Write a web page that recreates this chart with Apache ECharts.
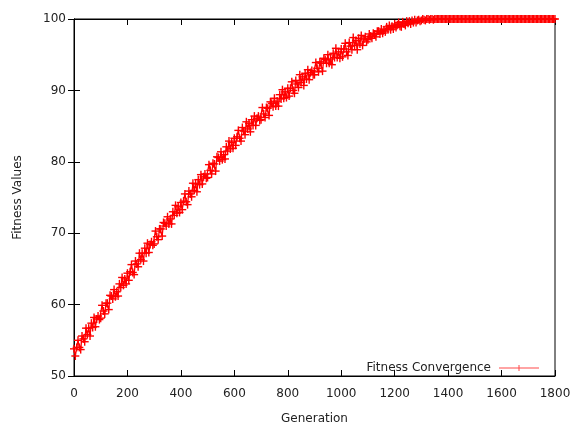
<!DOCTYPE html>
<html>
<head>
<meta charset="utf-8">
<script src="https://cdn.jsdelivr.net/npm/echarts@6/dist/echarts.min.js"></script>
<style>html,body{margin:0;padding:0;background:#fff}#c{width:576px;height:428px}</style>
</head>
<body>
<div id="c"></div>
<script>
const generations = [
0,5,10,15,20,25,30,35,40,45,50,55,60,65,70,75,80,85,90,95,
100,105,110,115,120,125,130,135,140,145,150,155,160,165,170,175,180,185,190,195,
200,205,210,215,220,225,230,235,240,245,250,255,260,265,270,275,280,285,290,295,
300,305,310,315,320,325,330,335,340,345,350,355,360,365,370,375,380,385,390,395,
400,405,410,415,420,425,430,435,440,445,450,455,460,465,470,475,480,485,490,495,
500,505,510,515,520,525,530,535,540,545,550,555,560,565,570,575,580,585,590,595,
600,605,610,615,620,625,630,635,640,645,650,655,660,665,670,675,680,685,690,695,
700,705,710,715,720,725,730,735,740,745,750,755,760,765,770,775,780,785,790,795,
800,805,810,815,820,825,830,835,840,845,850,855,860,865,870,875,880,885,890,895,
900,905,910,915,920,925,930,935,940,945,950,955,960,965,970,975,980,985,990,995,
1000,1005,1010,1015,1020,1025,1030,1035,1040,1045,1050,1055,1060,1065,1070,1075,1080,1085,1090,1095,
1100,1105,1110,1115,1120,1125,1130,1135,1140,1145,1150,1155,1160,1165,1170,1175,1180,1185,1190,1195,
1200,1205,1210,1215,1220,1225,1230,1235,1240,1245,1250,1255,1260,1265,1270,1275,1280,1285,1290,1295,
1300,1305,1310,1315,1320,1325,1330,1335,1340,1345,1350,1355,1360,1365,1370,1375,1380,1385,1390,1395,
1400,1405,1410,1415,1420,1425,1430,1435,1440,1445,1450,1455,1460,1465,1470,1475,1480,1485,1490,1495,
1500,1505,1510,1515,1520,1525,1530,1535,1540,1545,1550,1555,1560,1565,1570,1575,1580,1585,1590,1595,
1600,1605,1610,1615,1620,1625,1630,1635,1640,1645,1650,1655,1660,1665,1670,1675,1680,1685,1690,1695,
1700,1705,1710,1715,1720,1725,1730,1735,1740,1745,1750,1755,1760,1765,1770,1775,1780,1785,1790,1795,
1800];
const fitness = [
53.8,52.8,54.0,55.0,54.0,53.7,55.6,55.2,54.8,56.7,
55.8,56.7,55.6,57.4,56.8,58.2,56.9,58.0,58.4,57.9,
58.1,59.9,59.1,58.7,60.2,60.2,59.3,61.3,61.2,60.8,
62.1,61.1,61.8,61.2,62.9,62.4,63.8,62.7,63.6,62.9,
64.4,63.4,64.6,65.6,64.5,64.2,66.1,65.7,65.3,67.2,
66.3,67.2,66.1,67.9,67.2,68.6,67.3,68.4,68.8,68.3,
68.5,70.3,69.5,69.1,70.6,70.6,69.6,71.5,71.4,71.0,
72.3,71.3,72.0,71.3,73.0,72.5,73.9,72.8,73.7,72.9,
74.3,73.3,74.5,75.5,74.4,74.0,75.9,75.5,75.1,77.0,
76.0,76.9,75.8,77.5,76.8,78.2,76.9,77.9,78.3,77.7,
77.8,79.6,78.8,78.3,79.8,79.7,78.7,80.7,80.6,80.1,
81.4,80.3,81.0,80.4,82.1,81.5,82.9,81.8,82.7,81.9,
83.3,82.3,83.5,84.4,83.3,82.9,84.8,84.3,83.8,85.6,
84.6,85.4,84.2,85.9,85.1,86.4,85.1,86.1,86.4,85.8,
85.9,87.6,86.7,86.2,87.6,87.5,86.5,88.4,88.2,87.7,
88.9,87.8,88.5,87.8,89.4,88.8,90.1,88.9,89.8,89.0,
90.3,89.2,90.3,91.2,90.0,89.6,91.4,90.9,90.4,92.2,
91.1,91.9,90.7,92.4,91.6,92.9,91.5,92.5,92.8,92.2,
92.2,93.9,93.1,92.6,94.0,93.8,92.7,94.5,94.3,93.8,
95.0,93.8,94.4,93.6,95.2,94.6,95.9,94.6,95.4,94.5,
95.8,94.7,95.8,96.6,95.4,94.9,96.7,96.2,95.7,97.4,
96.3,97.0,95.7,97.3,96.5,97.7,96.3,97.2,97.5,96.8,
97.1,97.9,97.6,97.3,98.0,97.9,97.5,98.3,98.3,97.9,
98.6,98.0,98.5,98.2,98.9,98.5,99.1,98.5,99.0,98.6,
99.3,98.8,99.2,99.5,99.0,98.9,99.6,99.3,99.1,99.7,
99.4,99.7,99.3,99.8,99.5,99.9,99.5,99.8,99.9,99.7,
99.8,100,99.9,99.8,100,100,99.9,100,100,99.9,
100,100,100,100,100,100,100,100,100,100,
100,100,100,100,100,100,100,100,100,100,
100,100,100,100,100,100,100,100,100,100,
100,100,100,100,100,100,100,100,100,100,
100,100,100,100,100,100,100,100,100,100,
100,100,100,100,100,100,100,100,100,100,
100,100,100,100,100,100,100,100,100,100,
100,100,100,100,100,100,100,100,100,100,
100,100,100,100,100,100,100,100,100,100,
100];
const xTicks = [0,200,400,600,800,1000,1200,1400,1600,1800];
const yTicks = [50,60,70,80,90,100];
const seriesName = 'Fitness Convergence';

const points = generations.map((g, i) => [g, fitness[i]]);
const font = 'DejaVu Sans';
const txt = '#222';
const red = '#ff0000';
const chart = echarts.init(document.getElementById('c'), null, {renderer: 'canvas'});
const axisCommon = {
  axisLine: {show: true, lineStyle: {color: '#000', width: 1}},
  axisTick: {show: true, inside: true, length: 6, lineStyle: {color: '#000'}},
  splitLine: {show: false}
};
function renderPlus(params, api) {
  const p = api.coord([api.value(0), api.value(1)]);
  const h = 4;
  const st = {stroke: red, lineWidth: 1.4, fill: null};
  return {
    type: 'group',
    children: [
      {type: 'line', shape: {x1: p[0] - h, y1: p[1], x2: p[0] + h, y2: p[1]}, style: st},
      {type: 'line', shape: {x1: p[0], y1: p[1] - h, x2: p[0], y2: p[1] + h}, style: st}
    ]
  };
}
chart.setOption({
  backgroundColor: '#fff',
  animation: false,
  grid: {left: 74, right: 21, top: 19, bottom: 52, show: true, borderColor: '#000', borderWidth: 1,
    containLabel: false, outerBoundsMode: 'none'},
  legend: {
    right: 32, top: 357, align: 'right', itemWidth: 40, itemHeight: 8,
    textStyle: {fontFamily: font, fontSize: 12, color: txt, padding: [0, 3, 0, 0]},
    data: [{name: seriesName, icon: 'path://M0,4h40v1h-40z M19.5,1.5h1v6h-1z', itemStyle: {color: '#ff4a4a', borderWidth: 0}}]
  },
  xAxis: [
    Object.assign({type: 'value', min: xTicks[0], max: xTicks[xTicks.length - 1], interval: 200, position: 'bottom',
      name: 'Generation', nameLocation: 'middle', nameGap: 37,
      nameTextStyle: {fontFamily: font, fontSize: 12, color: txt},
      axisLabel: {fontFamily: font, fontSize: 12, color: txt, margin: 12,
        formatter: v => String(v)}}, axisCommon),
    Object.assign({type: 'value', min: xTicks[0], max: xTicks[xTicks.length - 1], interval: 200, position: 'top',
      axisLabel: {show: false}}, axisCommon)
  ],
  yAxis: [
    Object.assign({type: 'value', min: yTicks[0], max: yTicks[yTicks.length - 1], interval: 10, position: 'left',
      name: 'Fitness Values', nameLocation: 'middle', nameGap: 50,
      nameTextStyle: {fontFamily: font, fontSize: 12, color: txt},
      axisLabel: {fontFamily: font, fontSize: 12, color: txt, margin: 8}}, axisCommon),
    Object.assign({type: 'value', min: yTicks[0], max: yTicks[yTicks.length - 1], interval: 10, position: 'right',
      axisLabel: {show: false}}, axisCommon)
  ],
  series: [
    {
      name: seriesName, type: 'line', xAxisIndex: 0, yAxisIndex: 0,
      data: points, showSymbol: false, symbol: 'none',
      lineStyle: {color: red, width: 1.3},
      itemStyle: {color: red},
      clip: false, z: 2
    },
    {
      name: seriesName, type: 'custom', xAxisIndex: 0, yAxisIndex: 0,
      data: points, renderItem: renderPlus,
      itemStyle: {color: red},
      encode: {x: 0, y: 1},
      clip: false, z: 3
    }
  ]
});
</script>
</body>
</html>
